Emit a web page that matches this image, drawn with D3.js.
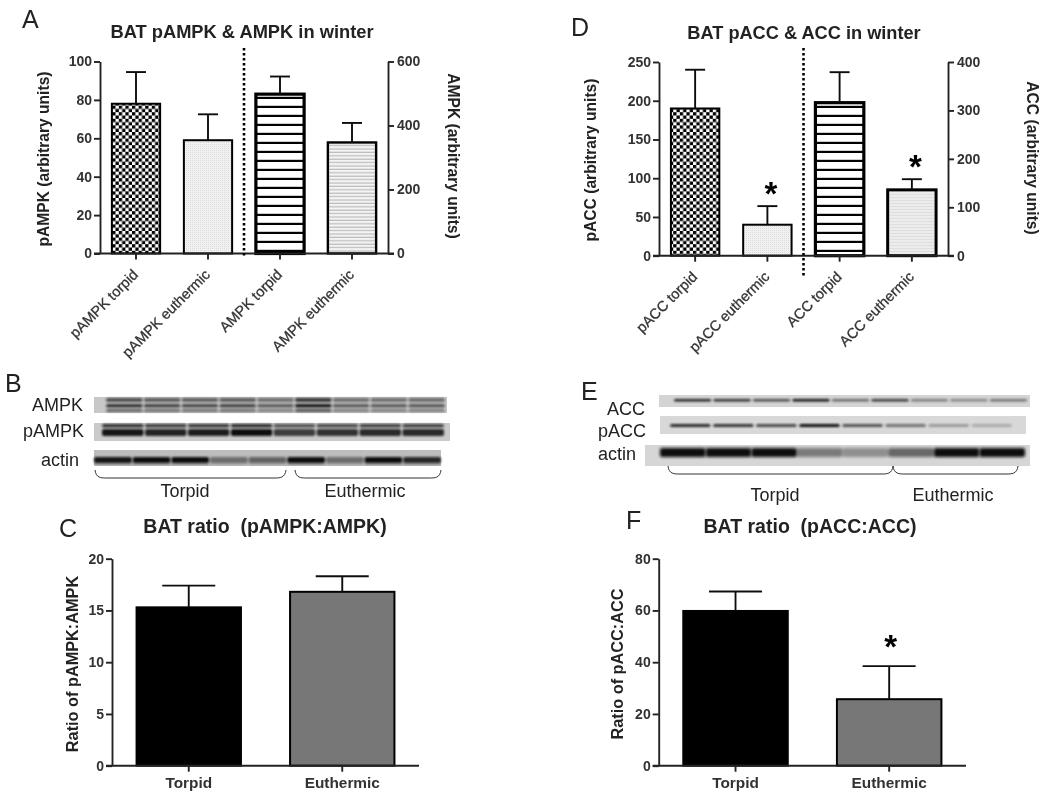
<!DOCTYPE html>
<html>
<head>
<meta charset="utf-8">
<script src="https://cdn.jsdelivr.net/npm/d3@7"></script>
<style>
  html, body { margin: 0; background: #fff; }
  svg { display: block; }
  text { font-family: "Liberation Sans", Arial, sans-serif; fill: #222; }
</style>
</head>
<body>
<div id="chart"></div>
<script>
// ---- 1) VALUES ----
const catsA = ["pAMPK torpid", "pAMPK euthermic", "AMPK torpid", "AMPK euthermic"];
const valsA = [78, 59, 498, 347];
const topsA = [94.5, 72.5, 553, 408];

const catsD = ["pACC torpid", "pACC euthermic", "ACC torpid", "ACC euthermic"];
const valsD = [190, 40, 316, 136];
const topsD = [240, 64, 379, 158];
const starsD = [false, true, false, true];

const catsRatio = ["Torpid", "Euthermic"];
const valsC = [15.3, 16.8];
const topsC = [17.4, 18.3];
const valsF = [59.8, 25.7];
const topsF = [67.3, 38.5];
const starsF = [false, true];

const ticksA1 = [0, 20, 40, 60, 80, 100];
const ticksA2 = [0, 200, 400, 600];
const ticksD1 = [0, 50, 100, 150, 200, 250];
const ticksD2 = [0, 100, 200, 300, 400];
const ticksC = [0, 5, 10, 15, 20];
const ticksF = [0, 20, 40, 60, 80];

// band darkness per lane, blots B and E
const laneAMPK = [.8, .7, .68, .7, .58, .95, .58, .58, .6];
const lanePAMPK = [.95, .88, .9, .98, .75, .8, .85, .85];
const laneActinB = [.95, .98, .98, .45, .5, 1, .45, .98, .85];
const laneACC = [.9, .85, .7, 1, .55, .8, .45, .4, .5];
const lanePACC = [.85, .8, .7, 1, .65, .5, .3, .22];
const laneActinE = [1, 1, 1, .45, .35, .55, 1, 1];

// ---- 2) SETUP ----
const width = 1050, height = 801;
const svg = d3.select("#chart").append("svg")
  .attr("width", width).attr("height", height);
const defs = svg.append("defs");

defs.append("filter").attr("id", "soft")
  .attr("x", "-5%").attr("y", "-5%").attr("width", "110%").attr("height", "110%")
  .append("feGaussianBlur").attr("stdDeviation", 0.5);
defs.append("filter").attr("id", "bandBlur")
  .attr("x", "-20%").attr("y", "-80%").attr("width", "140%").attr("height", "260%")
  .append("feGaussianBlur").attr("stdDeviation", 0.9);
defs.append("filter").attr("id", "bandBlurWide")
  .attr("x", "-20%").attr("y", "-80%").attr("width", "140%").attr("height", "260%")
  .append("feGaussianBlur").attr("stdDeviation", 1.8);

// bar fills
const checker = defs.append("pattern").attr("id", "checker")
  .attr("patternUnits", "userSpaceOnUse").attr("width", 6.6).attr("height", 6.6);
checker.append("rect").attr("width", 6.6).attr("height", 6.6).attr("fill", "#fff");
checker.append("rect").attr("width", 3.3).attr("height", 3.3).attr("fill", "#000");
checker.append("rect").attr("x", 3.3).attr("y", 3.3).attr("width", 3.3).attr("height", 3.3).attr("fill", "#000");

const dots = defs.append("pattern").attr("id", "dots")
  .attr("patternUnits", "userSpaceOnUse").attr("width", 2).attr("height", 2);
dots.append("rect").attr("width", 2).attr("height", 2).attr("fill", "#f1f1f1");
dots.append("rect").attr("width", 1).attr("height", 1).attr("fill", "#dcdcdc");

const hBold = defs.append("pattern").attr("id", "hBold")
  .attr("patternUnits", "userSpaceOnUse").attr("width", 8).attr("height", 9);
hBold.append("rect").attr("width", 8).attr("height", 9).attr("fill", "#fff");
hBold.append("rect").attr("y", 6.8).attr("width", 8).attr("height", 2.2).attr("fill", "#000");

const hFine = defs.append("pattern").attr("id", "hFine")
  .attr("patternUnits", "userSpaceOnUse").attr("width", 8).attr("height", 3.4);
hFine.append("rect").attr("width", 8).attr("height", 3.4).attr("fill", "#f4f4f4");
hFine.append("rect").attr("y", 2.2).attr("width", 8).attr("height", 1.2).attr("fill", "#bbb");

const hFaint = defs.append("pattern").attr("id", "hFaint")
  .attr("patternUnits", "userSpaceOnUse").attr("width", 8).attr("height", 3);
hFaint.append("rect").attr("width", 8).attr("height", 3).attr("fill", "#ececec");
hFaint.append("rect").attr("y", 2).attr("width", 8).attr("height", 1).attr("fill", "#dedede");

const root = svg.append("g").attr("filter", "url(#soft)");

function styleAxis(g) {
  g.selectAll("path, line").attr("stroke", "#222").attr("stroke-width", 1.9);
  g.selectAll("text").attr("font-size", 14).attr("font-weight", "bold").style("fill", "#333");
}

// ---- 3) BAR PANELS ----
function drawBars(p) {
  const g = root.append("g");
  const x = d3.scaleBand().domain(p.cats).range([p.x0, p.x1])
    .paddingInner(p.pad).paddingOuter(p.pad / 2);
  const yL = d3.scaleLinear().domain([0, d3.max(p.ticksL)]).range([p.y0, p.y1]);
  const yR = p.ticksR ? d3.scaleLinear().domain([0, d3.max(p.ticksR)]).range([p.y0, p.y1]) : null;
  const yOf = i => (yR && i >= 2 ? yR : yL);

  const bars = p.cats.map((c, i) => ({ c, i, v: p.vals[i], t: p.tops[i], star: p.stars && p.stars[i] }));

  // bars
  g.selectAll("rect.bar").data(bars).join("rect").attr("class", "bar")
    .attr("x", d => x(d.c)).attr("width", x.bandwidth())
    .attr("y", d => yOf(d.i)(d.v)).attr("height", d => p.y0 - yOf(d.i)(d.v))
    .attr("fill", d => p.fills[d.i])
    .attr("stroke", "#000").attr("stroke-width", d => p.strokes[d.i]);

  // error bars
  const cx = d => x(d.c) + x.bandwidth() / 2;
  g.selectAll("line.err").data(bars).join("line").attr("class", "err")
    .attr("x1", cx).attr("x2", cx)
    .attr("y1", d => yOf(d.i)(d.v)).attr("y2", d => yOf(d.i)(d.t))
    .attr("stroke", "#111").attr("stroke-width", 1.9);
  g.selectAll("line.cap").data(bars).join("line").attr("class", "cap")
    .attr("x1", d => cx(d) - p.capW / 2).attr("x2", d => cx(d) + p.capW / 2)
    .attr("y1", d => yOf(d.i)(d.t)).attr("y2", d => yOf(d.i)(d.t))
    .attr("stroke", "#111").attr("stroke-width", 1.9);

  // significance
  g.selectAll("text.star").data(bars.filter(d => d.star)).join("text").attr("class", "star")
    .attr("x", d => cx(d) + p.starDx).attr("y", d => yOf(d.i)(d.t) - p.starGap + 15)
    .attr("text-anchor", "middle").attr("font-size", 33).attr("font-weight", "bold")
    .style("fill", "#000").text("*");

  // axes
  const left = g.append("g").attr("transform", `translate(${p.x0},0)`)
    .call(d3.axisLeft(yL).tickValues(p.ticksL).tickSize(6).tickSizeOuter(0).tickPadding(2));
  styleAxis(left);
  if (yR) {
    const right = g.append("g").attr("transform", `translate(${p.x1},0)`)
      .call(d3.axisRight(yR).tickValues(p.ticksR).tickSize(6).tickSizeOuter(0).tickPadding(3));
    styleAxis(right);
  }
  const bottom = g.append("g").attr("transform", `translate(0,${p.y0})`)
    .call(d3.axisBottom(x).tickSize(6).tickSizeOuter(0).tickPadding(p.rotate ? 8 : 5));
  styleAxis(bottom);
  bottom.select("path.domain").attr("d", `M${p.x0 - 6},0H${p.x1 + (yR ? 6 : 0)}`);
  bottom.selectAll("text").attr("font-size", p.catSize);
  if (p.rotate) {
    bottom.selectAll("text")
      .attr("text-anchor", "end").attr("y", 0).attr("dy", 0)
      .attr("font-weight", "normal")
      .style("stroke", "#333").style("stroke-width", 0.3)
      .attr("transform", `translate(3,22) rotate(-45)`);
  }

  // dotted divider between the two halves
  if (p.divider) {
    const mid = (x(p.cats[1]) + x.bandwidth() + x(p.cats[2])) / 2 + p.divider.dx;
    g.append("line").attr("x1", mid).attr("x2", mid)
      .attr("y1", p.divider.y1).attr("y2", p.divider.y2)
      .attr("stroke", "#000").attr("stroke-width", 2.6).attr("stroke-dasharray", "2.4 2.6");
  }

  // titles
  g.append("text").attr("x", p.titleX).attr("y", p.titleY).attr("text-anchor", "middle")
    .attr("font-size", p.titleSize).attr("font-weight", "bold").attr("xml:space", "preserve").text(p.title);
  g.append("text").attr("transform", `translate(${p.labelLX},${p.labelLY}) rotate(-90)`)
    .attr("text-anchor", "middle").attr("dominant-baseline", "central")
    .attr("font-size", p.labelSize).attr("font-weight", "bold").text(p.labelL);
  if (p.labelR) {
    g.append("text").attr("transform", `translate(${p.labelRX},${p.labelRY}) rotate(90)`)
      .attr("text-anchor", "middle").attr("dominant-baseline", "central")
      .attr("font-size", p.labelSize).attr("font-weight", "bold").text(p.labelR);
  }
}

const fillsA = ["url(#checker)", "url(#dots)", "url(#hBold)", "url(#hFine)"];
const fillsD = ["url(#checker)", "url(#dots)", "url(#hBold)", "url(#hFaint)"];
const fillsRatio = ["#000", "#777"];

drawBars({ cats: catsA, vals: valsA, tops: topsA, ticksL: ticksA1, ticksR: ticksA2,
  x0: 100, x1: 388, y0: 253.5, y1: 61.5, pad: 0.33, capW: 20, catSize: 14.5,
  fills: fillsA, strokes: [2, 2, 3.2, 2.4], rotate: true, divider: { dx: 0, y1: 48, y2: 258 },
  title: "BAT pAMPK & AMPK in winter", titleX: 242, titleY: 38, titleSize: 18.3,
  labelL: "pAMPK (arbitrary units)", labelLX: 43, labelLY: 159, labelSize: 15.6,
  labelR: "AMPK (arbitrary units)", labelRX: 453, labelRY: 156 });

drawBars({ cats: catsD, vals: valsD, tops: topsD, stars: starsD, ticksL: ticksD1, ticksR: ticksD2,
  x0: 659, x1: 948, y0: 255.7, y1: 62, pad: 0.33, capW: 20, catSize: 14.5, starGap: 16, starDx: 3.5,
  fills: fillsD, strokes: [2, 2, 3.2, 3], rotate: true, divider: { dx: 0, y1: 48, y2: 276 },
  title: "BAT pACC & ACC in winter", titleX: 804, titleY: 39, titleSize: 18.2,
  labelL: "pACC (arbitrary units)", labelLX: 590, labelLY: 160, labelSize: 15.6,
  labelR: "ACC (arbitrary units)", labelRX: 1033, labelRY: 158 });

drawBars({ cats: catsRatio, vals: valsC, tops: topsC, ticksL: ticksC,
  x0: 112, x1: 419, y0: 765.7, y1: 558.7, pad: 0.32, capW: 53, catSize: 15.4,
  fills: fillsRatio, strokes: [2, 2],
  title: "BAT ratio  (pAMPK:AMPK)", titleX: 265, titleY: 533, titleSize: 19.5,
  labelL: "Ratio of pAMPK:AMPK", labelLX: 72, labelLY: 664, labelSize: 16.3 });

drawBars({ cats: catsRatio, vals: valsF, tops: topsF, stars: starsF, ticksL: ticksF,
  x0: 658.7, x1: 966, y0: 765.7, y1: 558.7, pad: 0.32, capW: 53, catSize: 15.4, starGap: 23, starDx: 1.5,
  fills: fillsRatio, strokes: [2, 2],
  title: "BAT ratio  (pACC:ACC)", titleX: 810, titleY: 533, titleSize: 19.5,
  labelL: "Ratio of pACC:ACC", labelLX: 617, labelLY: 664, labelSize: 16.3 });

// ---- 4) WESTERN BLOT STRIPS ----
function drawBlot(b) {
  const g = root.append("g");
  g.append("rect").attr("x", b.x0).attr("y", b.y0)
    .attr("width", b.x1 - b.x0).attr("height", b.y1 - b.y0).attr("fill", b.bg);
  const lane = d3.scaleBand().domain(d3.range(b.lanes.length))
    .range([b.laneX0, b.laneX1]).paddingInner(b.gap);
  b.rows.forEach(r => {
    g.selectAll(null).data(b.lanes).join("rect")
      .attr("x", (d, i) => lane(i)).attr("width", lane.bandwidth())
      .attr("y", b.y0 + r.dy).attr("height", r.h)
      .attr("rx", 2)
      .attr("fill", "#111").attr("opacity", d => d * r.k)
      .attr("filter", `url(#${b.blur})`);
  });
  g.append("text").attr("x", b.labelX).attr("y", b.labelY).attr("text-anchor", "end")
    .attr("font-size", b.labelSize).text(b.label);
}

drawBlot({ label: "AMPK", labelX: 83, labelY: 411, labelSize: 18, lanes: laneAMPK, bg: "#c8c8c8",
  x0: 94, x1: 447, y0: 397, y1: 413, laneX0: 106, laneX1: 445, gap: 0.03, blur: "bandBlur",
  rows: [{ dy: 1, h: 4, k: .8 }, { dy: 7, h: 3.5, k: 1 }, { dy: 12, h: 3, k: .65 }] });
drawBlot({ label: "pAMPK", labelX: 84, labelY: 437, labelSize: 18, lanes: lanePAMPK, bg: "#cacaca",
  x0: 94, x1: 450, y0: 423, y1: 441, laneX0: 102, laneX1: 444, gap: 0.03, blur: "bandBlur",
  rows: [{ dy: 1, h: 3.5, k: .85 }, { dy: 6, h: 7, k: 1 }] });
drawBlot({ label: "actin", labelX: 79, labelY: 466, labelSize: 18, lanes: laneActinB, bg: "#bdbdbd",
  x0: 94, x1: 441, y0: 450, y1: 466, laneX0: 94, laneX1: 441, gap: 0.02, blur: "bandBlur",
  rows: [{ dy: 7, h: 6, k: 1 }, { dy: 13, h: 1.5, k: .4 }] });

drawBlot({ label: "ACC", labelX: 645, labelY: 415, labelSize: 18, lanes: laneACC, bg: "#d4d4d4",
  x0: 659, x1: 1030, y0: 395, y1: 407, laneX0: 674, laneX1: 1027, gap: 0.06, blur: "bandBlur",
  rows: [{ dy: 4, h: 2.6, k: 1 }] });
drawBlot({ label: "pACC", labelX: 646, labelY: 437, labelSize: 18, lanes: lanePACC, bg: "#d8d8d8",
  x0: 660, x1: 1026, y0: 416, y1: 434, laneX0: 670, laneX1: 1012, gap: 0.06, blur: "bandBlur",
  rows: [{ dy: 8, h: 3, k: 1 }] });
drawBlot({ label: "actin", labelX: 636, labelY: 460, labelSize: 18, lanes: laneActinE, bg: "#d6d6d6",
  x0: 645, x1: 1030, y0: 445, y1: 466, laneX0: 660, laneX1: 1025, gap: 0, blur: "bandBlurWide",
  rows: [{ dy: 3, h: 9, k: 1 }] });

// group braces under the blots
const braces = [
  { x0: 95, x1: 286, y: 470, d: 8 }, { x0: 295, x1: 441, y: 470, d: 8 },
  { x0: 668, x1: 893, y: 466, d: 8 }, { x0: 893, x1: 1018, y: 466, d: 8 }
];
root.selectAll("path.brace").data(braces).join("path").attr("class", "brace")
  .attr("fill", "none").attr("stroke", "#333").attr("stroke-width", 1)
  .attr("d", b => `M${b.x0},${b.y}C${b.x0 + 1},${b.y + b.d} ${b.x0 + 6},${b.y + b.d} ${b.x0 + 12},${b.y + b.d}`
    + `H${b.x1 - 12}C${b.x1 - 6},${b.y + b.d} ${b.x1 - 1},${b.y + b.d} ${b.x1},${b.y}`);

const groupLabels = [
  { t: "Torpid", x: 185, y: 497 }, { t: "Euthermic", x: 365, y: 497 },
  { t: "Torpid", x: 775, y: 501 }, { t: "Euthermic", x: 953, y: 501 }
];
root.selectAll("text.group").data(groupLabels).join("text").attr("class", "group")
  .attr("x", d => d.x).attr("y", d => d.y).attr("text-anchor", "middle")
  .attr("font-size", 18).text(d => d.t);

// ---- 5) PANEL LETTERS ----
const letters = [
  { t: "A", x: 22, y: 28 }, { t: "D", x: 571, y: 36 }, { t: "B", x: 5, y: 392 },
  { t: "E", x: 581, y: 400 }, { t: "C", x: 59, y: 537 }, { t: "F", x: 626, y: 529 }
];
root.selectAll("text.letter").data(letters).join("text").attr("class", "letter")
  .attr("x", d => d.x).attr("y", d => d.y).attr("font-size", 25).text(d => d.t);
</script>
</body>
</html>
